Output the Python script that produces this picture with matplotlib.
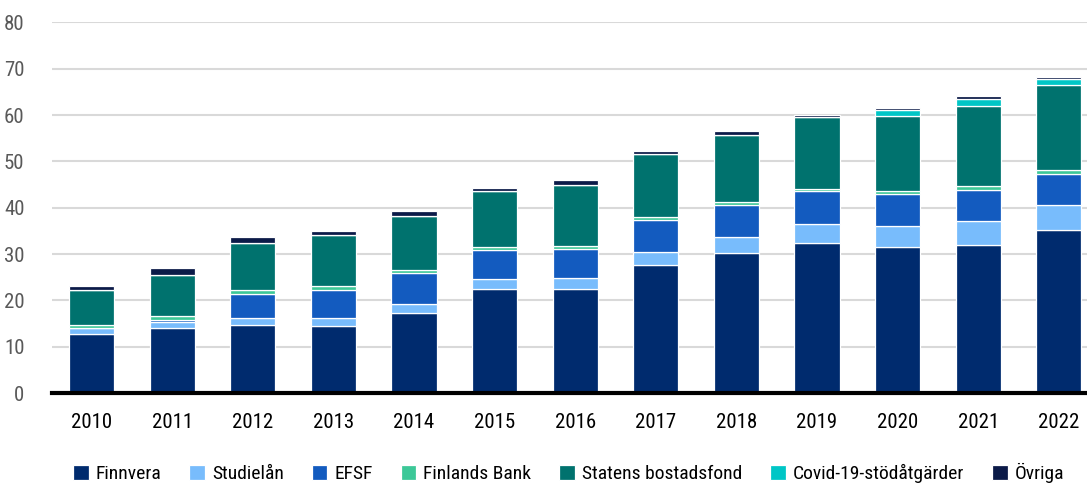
import matplotlib
matplotlib.use("Agg")
from matplotlib import pyplot as plt
from matplotlib import font_manager
import numpy as np

# Pick a narrow face if one is installed, otherwise fall back
available = {f.name for f in font_manager.fontManager.ttflist}
for family in ["Liberation Sans Narrow", "Roboto Condensed", "Open Sans Condensed", "Roboto"]:
    if family in available:
        plt.rcParams["font.family"] = [family, "DejaVu Sans"]
        break

years = ["2010", "2011", "2012", "2013", "2014", "2015", "2016",
         "2017", "2018", "2019", "2020", "2021", "2022"]

finnvera = [12.7, 14.0, 14.8, 14.5, 17.4, 22.5, 22.5, 27.7, 30.2, 32.5, 31.6, 32.0, 35.1]
studielan = [1.4, 1.4, 1.5, 1.7, 1.8, 2.1, 2.4, 2.8, 3.4, 4.1, 4.5, 5.1, 5.5]
efsf = [0.0, 0.4, 5.2, 6.1, 6.7, 6.3, 6.3, 6.9, 7.1, 7.0, 6.8, 6.7, 6.6]
finlands_bank = [0.5, 0.8, 0.8, 0.8, 0.6, 0.6, 0.6, 0.5, 0.6, 0.5, 0.7, 0.8, 0.9]
statens = [7.7, 9.0, 10.1, 11.0, 11.7, 12.2, 13.1, 13.6, 14.4, 15.4, 16.3, 17.3, 18.4]
covid = [0, 0, 0, 0, 0, 0, 0, 0, 0, 0, 1.1, 1.5, 1.3]
ovriga = [0.9, 1.3, 1.4, 0.9, 1.0, 0.5, 1.1, 0.7, 0.9, 0.5, 0.6, 0.7, 0.5]

series = [
    ("Finnvera", finnvera, "#002B6E"),
    ("Studielån", studielan, "#78BCFC"),
    ("EFSF", efsf, "#135BBF"),
    ("Finlands Bank", finlands_bank, "#3CC898"),
    ("Statens bostadsfond", statens, "#00726E"),
    ("Covid-19-stödåtgärder", covid, "#00C6C6"),
    ("Övriga", ovriga, "#0B1A48"),
]

fig = plt.figure(figsize=(10.87, 4.86), dpi=100)
ax = fig.add_axes([0.048, 0.191, 0.952, 0.763])

x = np.arange(len(years))
bottom = np.zeros(len(years))
for name, values, color in series:
    values = np.array(values)
    ax.bar(x, values, width=0.56, bottom=bottom, color=color,
           edgecolor="white", linewidth=0.9, label=name, zorder=3)
    bottom += values

ax.set_ylim(0, 80)
ax.set_xlim(-0.49, 12.35)
ax.set_yticks(range(0, 81, 10))
ax.set_xticks(x)
ax.set_xticklabels(years)

ax.yaxis.grid(True, color="#D9D9D9", linewidth=1.5, zorder=0)
ax.set_axisbelow(True)
for side in ["top", "right", "left"]:
    ax.spines[side].set_visible(False)
ax.spines["bottom"].set_color("black")
ax.spines["bottom"].set_linewidth(3)
ax.spines["bottom"].set_zorder(4)

ax.tick_params(axis="y", length=0, pad=20, labelsize=15, labelcolor="#595959")
ax.tick_params(axis="x", length=0, pad=14, labelsize=15, labelcolor="black")
for label in ax.get_yticklabels():
    label.set_horizontalalignment("right")

fig.legend(loc="lower center", bbox_to_anchor=(0.523, -0.03), ncol=7,
           frameon=False, fontsize=14, handlelength=0.8, handleheight=0.8,
           handletextpad=0.35, columnspacing=1.45)

fig.savefig("out.png", dpi=100)
